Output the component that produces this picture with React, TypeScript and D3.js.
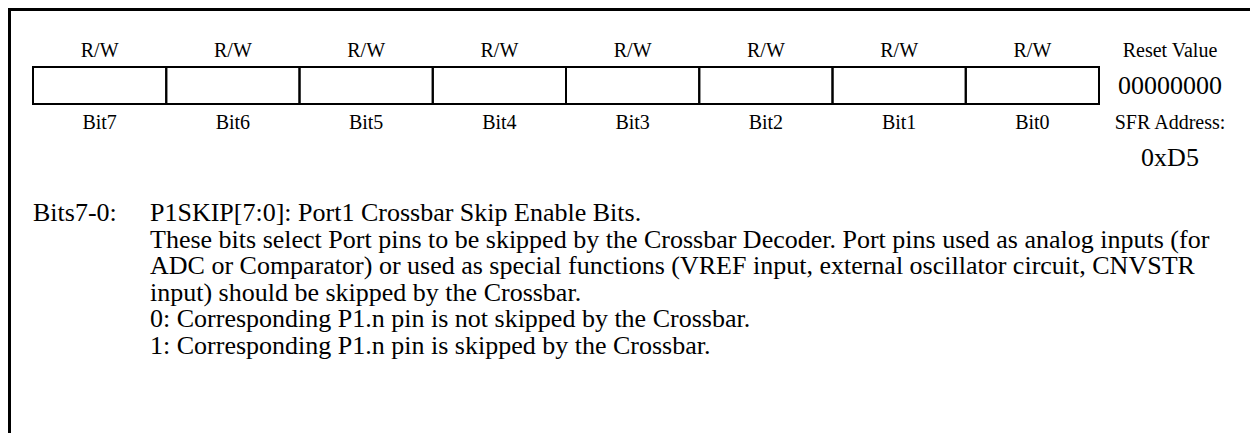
import React from "react";
import * as d3 from "d3";

const bitNames = ["Bit7", "Bit6", "Bit5", "Bit4", "Bit3", "Bit2", "Bit1", "Bit0"];
const accessTypes = ["R/W", "R/W", "R/W", "R/W", "R/W", "R/W", "R/W", "R/W"];
const resetLabel = "Reset Value";
const resetValue = "00000000";
const sfrLabel = "SFR Address:";
const sfrValue = "0xD5";
const fieldName = "Bits7-0:";
const descLines = [
  "P1SKIP[7:0]: Port1 Crossbar Skip Enable Bits.",
  "These bits select Port pins to be skipped by the Crossbar Decoder. Port pins used as analog inputs (for",
  "ADC or Comparator) or used as special functions (VREF input, external oscillator circuit, CNVSTR",
  "input) should be skipped by the Crossbar.",
  "0: Corresponding P1.n pin is not skipped by the Crossbar.",
  "1: Corresponding P1.n pin is skipped by the Crossbar.",
];

const W = 1250;
const H = 433;
const FONT = "'Liberation Serif', 'Times New Roman', serif";

export default function App() {
  const x = d3.scaleBand<string>().domain(bitNames).range([33, 1099]).padding(0);
  const lineY = d3.scaleLinear().domain([0, 1]).range([221, 247.6]);
  const rightX = 1170;
  return (
    <svg
      width={W}
      height={H}
      style={{ position: "absolute", left: 0, top: 0, background: "#fff" }}
      fontFamily={FONT}
    >
      <rect x={0} y={0} width={W} height={H} fill="#fff" />
      <line x1={8} y1={9.5} x2={W} y2={9.5} stroke="#000" strokeWidth={3} />
      <line x1={9.5} y1={8} x2={9.5} y2={H} stroke="#000" strokeWidth={3} />
      {bitNames.map((b, i) => (
        <g key={b}>
          <rect
            x={x(b)}
            y={67}
            width={x.bandwidth()}
            height={37}
            fill="none"
            stroke="#000"
            strokeWidth={2}
          />
          <text x={(x(b) as number) + x.bandwidth() / 2} y={57} textAnchor="middle" fontSize={20}>
            {accessTypes[i]}
          </text>
          <text x={(x(b) as number) + x.bandwidth() / 2} y={129} textAnchor="middle" fontSize={20}>
            {b}
          </text>
        </g>
      ))}
      <text x={rightX} y={57} textAnchor="middle" fontSize={20}>{resetLabel}</text>
      <text x={rightX} y={94} textAnchor="middle" fontSize={26}>{resetValue}</text>
      <text x={rightX} y={129} textAnchor="middle" fontSize={20}>{sfrLabel}</text>
      <text x={rightX} y={166} textAnchor="middle" fontSize={26}>{sfrValue}</text>
      <text x={33} y={lineY(0)} fontSize={26}>{fieldName}</text>
      {descLines.map((t, i) => (
        <text key={i} x={150} y={lineY(i)} fontSize={26}>{t}</text>
      ))}
    </svg>
  );
}
